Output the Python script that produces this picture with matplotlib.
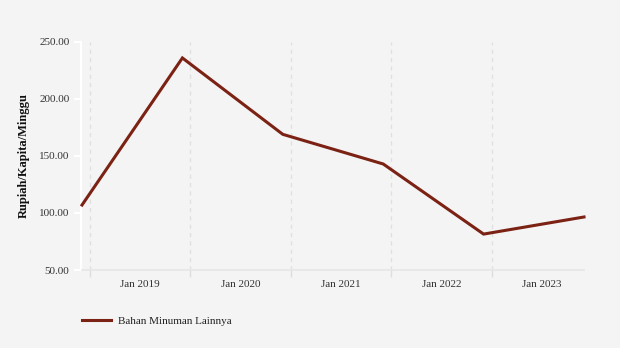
import numpy as np
import matplotlib
matplotlib.use("Agg")
import matplotlib.pyplot as plt

# data (one point per year, end of year)
values = [107.0, 236.0, 169.0, 143.0, 81.5, 96.5]
year_labels = ["Jan 2019", "Jan 2020", "Jan 2021", "Jan 2022", "Jan 2023"]
series_name = "Bahan Minuman Lainnya"

plt.rcParams['font.family'] = ['Liberation Serif', 'DejaVu Serif']

bg = '#f4f4f4'
fig = plt.figure(figsize=(6.2, 3.48), dpi=100, facecolor=bg)
ax = fig.add_axes([82 / 620, 78 / 348, 502 / 620, 228 / 348], facecolor=bg)

x = np.arange(len(values))
line, = ax.plot(x, values, color='#7b2214', lw=2.2, solid_joinstyle='miter',
                clip_on=False, zorder=3)

ax.set_xlim(0, 5)
ax.set_ylim(50, 250)
ax.set_yticks([50, 100, 150, 200, 250])
ax.set_yticklabels(["%.2f" % v for v in [50, 100, 150, 200, 250]])

# gridlines at year boundaries, labels centred between them
grid_pos = np.arange(len(year_labels)) + 0.08
ax.set_xticks(grid_pos)
ax.set_xticklabels([])
ax.set_xticks(grid_pos + 0.5, minor=True)
ax.set_xticklabels(year_labels, minor=True)
ax.tick_params(axis='x', which='major', length=5, color='#dddddd', width=1)
ax.tick_params(axis='x', which='minor', length=0, pad=7, labelsize=8, labelcolor='#333333')
ax.tick_params(axis='y', length=5, color='white', width=1.5, labelsize=8,
               labelcolor='#333333', pad=3)
for g in grid_pos:
    ax.axvline(g, color='#e0e0e0', lw=1, ls=(0, (3, 3)), zorder=1)

for s in ['top', 'right']:
    ax.spines[s].set_visible(False)
ax.spines['left'].set_color('white')
ax.spines['left'].set_linewidth(1.5)
ax.spines['left'].set_position(('outward', 1))
ax.spines['bottom'].set_color('#e6e6e6')
ax.spines['bottom'].set_linewidth(1.2)

ax.set_ylabel("Rupiah/Kapita/Minggu", fontsize=9, fontweight='bold', color='#111111', labelpad=7)

leg = fig.legend([line], [series_name], loc='lower left', bbox_to_anchor=(72 / 620, 12 / 348),
                 frameon=False, fontsize=8, handlelength=2.6, handletextpad=0.6)
for t in leg.get_texts():
    t.set_color('#222222')

fig.savefig("out.png", dpi=100, facecolor=bg)
